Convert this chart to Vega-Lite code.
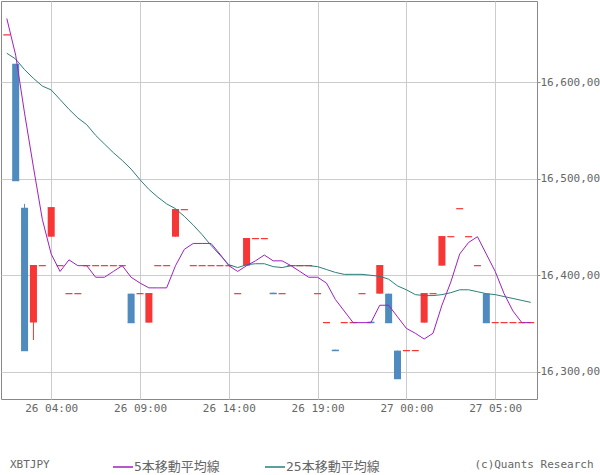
{
  "$schema": "https://vega.github.io/schema/vega-lite/v6.json",
  "width": 536,
  "height": 398,
  "autosize": {"type": "none"},
  "padding": {"left": 1, "top": 1, "right": 63, "bottom": 76},
  "background": "white",
  "title": {"text": "(c)Quants Research", "orient": "bottom", "anchor": "end", "frame": "bounds", "offset": -15, "dx": -6, "font": "DejaVu Sans Mono", "fontSize": 11, "fontWeight": "normal", "color": "#666666"},
  "config": {
    "view": {"stroke": "#888888", "strokeWidth": 1},
    "font": "DejaVu Sans Mono, Noto Sans CJK JP",
    "legend": {
      "orient": "none", "legendX": 9, "legendY": 455, "direction": "horizontal",
      "titleOrient": "left", "titlePadding": 62, "titleFont": "DejaVu Sans Mono", "titleFontSize": 11, "titleFontWeight": "normal", "titleColor": "#666666",
      "labelFont": "DejaVu Sans Mono, Noto Sans CJK JP", "labelFontSize": 13, "labelColor": "#666666",
      "symbolType": "stroke", "symbolSize": 400, "symbolStrokeWidth": 1.5, "labelOffset": 0, "columnPadding": 42
    }
  },
  "datasets": {
    "candles": [
      {"t": "2024-01-26T01:30:00", "o": 16649, "h": 16649, "l": 16649, "c": 16649, "ma5": 16666, "ma25": 16630},
      {"t": "2024-01-26T02:00:00", "o": 16619, "h": 16619, "l": 16498, "c": 16498, "ma5": 16628, "ma25": 16624},
      {"t": "2024-01-26T02:30:00", "o": 16470, "h": 16474, "l": 16322, "c": 16322, "ma5": 16568, "ma25": 16613},
      {"t": "2024-01-26T03:00:00", "o": 16351, "h": 16410, "l": 16333, "c": 16410, "ma5": 16512, "ma25": 16604},
      {"t": "2024-01-26T03:30:00", "o": 16410, "h": 16410, "l": 16410, "c": 16410, "ma5": 16458, "ma25": 16596},
      {"t": "2024-01-26T04:00:00", "o": 16440, "h": 16470, "l": 16440, "c": 16470, "ma5": 16422, "ma25": 16592},
      {"t": "2024-01-26T04:30:00", "o": 16410, "h": 16410, "l": 16410, "c": 16410, "ma5": 16404, "ma25": 16582},
      {"t": "2024-01-26T05:00:00", "o": 16381, "h": 16381, "l": 16381, "c": 16381, "ma5": 16416, "ma25": 16572},
      {"t": "2024-01-26T05:30:00", "o": 16381, "h": 16381, "l": 16381, "c": 16381, "ma5": 16410, "ma25": 16563},
      {"t": "2024-01-26T06:00:00", "o": 16410, "h": 16410, "l": 16410, "c": 16410, "ma5": 16410, "ma25": 16556},
      {"t": "2024-01-26T06:30:00", "o": 16410, "h": 16410, "l": 16410, "c": 16410, "ma5": 16398, "ma25": 16545},
      {"t": "2024-01-26T07:00:00", "o": 16410, "h": 16410, "l": 16410, "c": 16410, "ma5": 16398, "ma25": 16536},
      {"t": "2024-01-26T07:30:00", "o": 16410, "h": 16410, "l": 16410, "c": 16410, "ma5": 16404, "ma25": 16527},
      {"t": "2024-01-26T08:00:00", "o": 16410, "h": 16410, "l": 16410, "c": 16410, "ma5": 16410, "ma25": 16519},
      {"t": "2024-01-26T08:30:00", "o": 16381, "h": 16381, "l": 16351, "c": 16351, "ma5": 16398, "ma25": 16510},
      {"t": "2024-01-26T09:00:00", "o": 16381, "h": 16381, "l": 16381, "c": 16381, "ma5": 16392, "ma25": 16499},
      {"t": "2024-01-26T09:30:00", "o": 16351, "h": 16381, "l": 16351, "c": 16381, "ma5": 16387, "ma25": 16489},
      {"t": "2024-01-26T10:00:00", "o": 16410, "h": 16410, "l": 16410, "c": 16410, "ma5": 16387, "ma25": 16481},
      {"t": "2024-01-26T10:30:00", "o": 16410, "h": 16410, "l": 16410, "c": 16410, "ma5": 16387, "ma25": 16474},
      {"t": "2024-01-26T11:00:00", "o": 16440, "h": 16468, "l": 16440, "c": 16468, "ma5": 16410, "ma25": 16469},
      {"t": "2024-01-26T11:30:00", "o": 16468, "h": 16468, "l": 16468, "c": 16468, "ma5": 16427, "ma25": 16461},
      {"t": "2024-01-26T12:00:00", "o": 16410, "h": 16410, "l": 16410, "c": 16410, "ma5": 16433, "ma25": 16452},
      {"t": "2024-01-26T12:30:00", "o": 16410, "h": 16410, "l": 16410, "c": 16410, "ma5": 16433, "ma25": 16442},
      {"t": "2024-01-26T13:00:00", "o": 16410, "h": 16410, "l": 16410, "c": 16410, "ma5": 16433, "ma25": 16431},
      {"t": "2024-01-26T13:30:00", "o": 16410, "h": 16410, "l": 16410, "c": 16410, "ma5": 16422, "ma25": 16421},
      {"t": "2024-01-26T14:00:00", "o": 16410, "h": 16410, "l": 16410, "c": 16410, "ma5": 16410, "ma25": 16411},
      {"t": "2024-01-26T14:30:00", "o": 16381, "h": 16381, "l": 16381, "c": 16381, "ma5": 16404, "ma25": 16408},
      {"t": "2024-01-26T15:00:00", "o": 16410, "h": 16438, "l": 16410, "c": 16438, "ma5": 16410, "ma25": 16411},
      {"t": "2024-01-26T15:30:00", "o": 16438, "h": 16438, "l": 16438, "c": 16438, "ma5": 16415, "ma25": 16412},
      {"t": "2024-01-26T16:00:00", "o": 16438, "h": 16438, "l": 16438, "c": 16438, "ma5": 16421, "ma25": 16412},
      {"t": "2024-01-26T16:30:00", "o": 16382, "h": 16382, "l": 16381, "c": 16381, "ma5": 16415, "ma25": 16409},
      {"t": "2024-01-26T17:00:00", "o": 16381, "h": 16381, "l": 16381, "c": 16381, "ma5": 16415, "ma25": 16408},
      {"t": "2024-01-26T17:30:00", "o": 16410, "h": 16410, "l": 16410, "c": 16410, "ma5": 16410, "ma25": 16410},
      {"t": "2024-01-26T18:00:00", "o": 16410, "h": 16410, "l": 16410, "c": 16410, "ma5": 16404, "ma25": 16410},
      {"t": "2024-01-26T18:30:00", "o": 16410, "h": 16410, "l": 16410, "c": 16410, "ma5": 16398, "ma25": 16410},
      {"t": "2024-01-26T19:00:00", "o": 16381, "h": 16381, "l": 16381, "c": 16381, "ma5": 16398, "ma25": 16409},
      {"t": "2024-01-26T19:30:00", "o": 16351, "h": 16351, "l": 16351, "c": 16351, "ma5": 16392, "ma25": 16406},
      {"t": "2024-01-26T20:00:00", "o": 16323, "h": 16323, "l": 16322, "c": 16322, "ma5": 16375, "ma25": 16403},
      {"t": "2024-01-26T20:30:00", "o": 16351, "h": 16351, "l": 16351, "c": 16351, "ma5": 16363, "ma25": 16401},
      {"t": "2024-01-26T21:00:00", "o": 16351, "h": 16351, "l": 16351, "c": 16351, "ma5": 16351, "ma25": 16401},
      {"t": "2024-01-26T21:30:00", "o": 16381, "h": 16381, "l": 16381, "c": 16381, "ma5": 16351, "ma25": 16401},
      {"t": "2024-01-26T22:00:00", "o": 16352, "h": 16352, "l": 16351, "c": 16351, "ma5": 16351, "ma25": 16400},
      {"t": "2024-01-26T22:30:00", "o": 16381, "h": 16410, "l": 16381, "c": 16410, "ma5": 16369, "ma25": 16399},
      {"t": "2024-01-26T23:00:00", "o": 16381, "h": 16381, "l": 16351, "c": 16351, "ma5": 16369, "ma25": 16396},
      {"t": "2024-01-26T23:30:00", "o": 16322, "h": 16322, "l": 16293, "c": 16293, "ma5": 16357, "ma25": 16389},
      {"t": "2024-01-27T00:00:00", "o": 16322, "h": 16322, "l": 16322, "c": 16322, "ma5": 16345, "ma25": 16385},
      {"t": "2024-01-27T00:30:00", "o": 16322, "h": 16322, "l": 16322, "c": 16322, "ma5": 16340, "ma25": 16380},
      {"t": "2024-01-27T01:00:00", "o": 16351, "h": 16381, "l": 16351, "c": 16381, "ma5": 16334, "ma25": 16379},
      {"t": "2024-01-27T01:30:00", "o": 16381, "h": 16381, "l": 16381, "c": 16381, "ma5": 16340, "ma25": 16379},
      {"t": "2024-01-27T02:00:00", "o": 16410, "h": 16440, "l": 16410, "c": 16440, "ma5": 16369, "ma25": 16380},
      {"t": "2024-01-27T02:30:00", "o": 16440, "h": 16440, "l": 16440, "c": 16440, "ma5": 16393, "ma25": 16382},
      {"t": "2024-01-27T03:00:00", "o": 16469, "h": 16469, "l": 16469, "c": 16469, "ma5": 16422, "ma25": 16385},
      {"t": "2024-01-27T03:30:00", "o": 16440, "h": 16440, "l": 16440, "c": 16440, "ma5": 16434, "ma25": 16385},
      {"t": "2024-01-27T04:00:00", "o": 16410, "h": 16410, "l": 16410, "c": 16410, "ma5": 16440, "ma25": 16383},
      {"t": "2024-01-27T04:30:00", "o": 16381, "h": 16381, "l": 16351, "c": 16351, "ma5": 16422, "ma25": 16381},
      {"t": "2024-01-27T05:00:00", "o": 16351, "h": 16351, "l": 16351, "c": 16351, "ma5": 16404, "ma25": 16380},
      {"t": "2024-01-27T05:30:00", "o": 16351, "h": 16351, "l": 16351, "c": 16351, "ma5": 16381, "ma25": 16378},
      {"t": "2024-01-27T06:00:00", "o": 16351, "h": 16351, "l": 16351, "c": 16351, "ma5": 16363, "ma25": 16376},
      {"t": "2024-01-27T06:30:00", "o": 16351, "h": 16351, "l": 16351, "c": 16351, "ma5": 16351, "ma25": 16374},
      {"t": "2024-01-27T07:00:00", "o": 16351, "h": 16351, "l": 16351, "c": 16351, "ma5": 16351, "ma25": 16372}
    ]
  },
  "data": {"name": "candles"},
  "encoding": {
    "x": {
      "field": "t", "type": "temporal",
      "scale": {"domain": [{"year": 2024, "month": 1, "date": 26, "hours": 1, "minutes": 10, "seconds": 24}, {"year": 2024, "month": 1, "date": 27, "hours": 7, "minutes": 21, "seconds": 12}], "nice": false, "padding": 0},
      "axis": {
        "title": null, "format": "%d %H:%M",
        "values": [
          {"year": 2024, "month": 1, "date": 26, "hours": 4},
          {"year": 2024, "month": 1, "date": 26, "hours": 9},
          {"year": 2024, "month": 1, "date": 26, "hours": 14},
          {"year": 2024, "month": 1, "date": 26, "hours": 19},
          {"year": 2024, "month": 1, "date": 27, "hours": 0},
          {"year": 2024, "month": 1, "date": 27, "hours": 5}
        ],
        "grid": true, "gridColor": "#cccccc", "gridWidth": 1, "domain": false, "ticks": false,
        "labelPadding": 3, "labelFont": "DejaVu Sans Mono", "labelFontSize": 11, "labelColor": "#666666", "labelFlush": false
      }
    }
  },
  "layer": [
    {
      "mark": {"type": "rule", "strokeWidth": 1},
      "encoding": {
        "y": {"field": "l", "type": "quantitative",
          "scale": {"domain": [16271.9, 16684.1], "nice": false, "zero": false, "padding": 0},
          "axis": {"title": null, "orient": "right", "values": [16300, 16400, 16500, 16600],
            "labelExpr": "format(datum.value, ',') + ',00'",
            "grid": true, "gridColor": "#cccccc", "gridWidth": 1, "domain": false,
            "tickSize": 3, "tickColor": "#888888", "labelPadding": 0,
            "labelFont": "DejaVu Sans Mono", "labelFontSize": 11, "labelColor": "#666666", "labelFlush": false}},
        "y2": {"field": "h"},
        "color": {"condition": {"test": "datum.c < datum.o", "value": "#4f8bbf"}, "value": "#f73636"}
      }
    },
    {
      "mark": {"type": "bar", "size": 7},
      "encoding": {
        "y": {"field": "o", "type": "quantitative", "axis": {"title": null}},
        "y2": {"field": "c"},
        "color": {"condition": {"test": "datum.c < datum.o", "value": "#4f8bbf"}, "value": "#f73636"}
      }
    },
    {
      "mark": {"type": "tick", "orient": "horizontal", "size": 7, "thickness": 1.2, "opacity": 1},
      "encoding": {
        "y": {"field": "c", "type": "quantitative", "axis": {"title": null}},
        "color": {"condition": {"test": "datum.c < datum.o", "value": "#4f8bbf"}, "value": "#f73636"}
      }
    },
    {
      "transform": [{"fold": ["ma25", "ma5"], "as": ["series", "value"]}],
      "mark": {"type": "line", "strokeWidth": 1},
      "encoding": {
        "y": {"field": "value", "type": "quantitative", "axis": {"title": null}},
        "color": {"field": "series", "type": "nominal",
          "scale": {"domain": ["ma5", "ma25"], "range": ["#a020c0", "#2a7f7a"]},
          "legend": {"title": "XBTJPY", "labelExpr": "datum.label == 'ma5' ? '5本移動平均線' : '25本移動平均線'"}},
        "order": {"field": "series", "sort": "ascending"}
      }
    }
  ]
}
